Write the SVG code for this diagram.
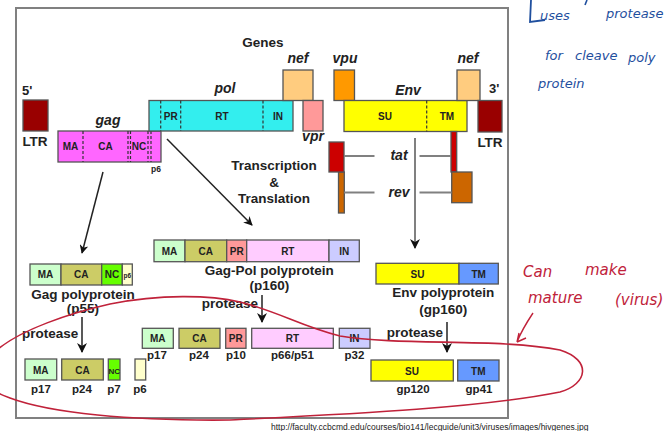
<svg xmlns="http://www.w3.org/2000/svg" width="667" height="431" viewBox="0 0 667 431">
<defs>
<style>
.b{stroke:#555;stroke-width:1.3}
.t{font-family:"Liberation Sans",Arial,sans-serif;font-weight:bold;fill:#222}
.bl{font-size:10px;text-anchor:middle}
.gl{font-size:14px;font-style:italic;text-anchor:middle}
.big{font-size:13.5px;text-anchor:middle}
.ps{font-size:13.5px;text-anchor:start}
.pl{font-size:11.5px;text-anchor:middle}
.d{stroke:#333;stroke-width:1.2;stroke-dasharray:3,2}
.ln{stroke:#222;stroke-width:1.5;fill:none}
.gr{stroke:#808080;stroke-width:2;fill:none}
.hb{font-family:"DejaVu Sans",sans-serif;font-style:italic;fill:#1f4f9e;font-size:13px}
.hr{font-family:"DejaVu Sans",sans-serif;font-style:italic;fill:#c0223a;font-size:15px}
</style>
<marker id="ah" viewBox="0 0 10 10" refX="9" refY="5" markerWidth="9" markerHeight="9" markerUnits="userSpaceOnUse" orient="auto">
<path d="M0,0 L10,5 L0,10 L3,5 Z" fill="#111"/>
</marker>
<marker id="ah2" viewBox="0 0 10 10" refX="9" refY="5" markerWidth="10" markerHeight="10" markerUnits="userSpaceOnUse" orient="auto">
<path d="M0,0 L10,5 L0,10 L3,5 Z" fill="#111"/>
</marker>
</defs>
<rect width="667" height="431" fill="#fff"/>
<rect x="16" y="8" width="492" height="410" fill="none" stroke="#808080" stroke-width="2"/>

<text class="t big" x="263" y="47">Genes</text>

<g id="ltr5">
<text class="t" x="22" y="95" font-size="13">5'</text>
<rect x="23" y="100" width="25" height="31" fill="#990000" class="b"/>
<text class="t big" x="35" y="146" font-size="13">LTR</text>
</g>

<g id="gag">
<text class="t gl" x="108" y="125">gag</text>
<rect x="58" y="131" width="103" height="31" fill="#FF66FF" class="b"/>
<line x1="83" y1="131" x2="83" y2="162" class="d"/>
<line x1="128" y1="131" x2="128" y2="162" class="d"/>
<line x1="130.5" y1="131" x2="130.5" y2="162" class="d"/>
<line x1="148" y1="131" x2="148" y2="162" class="d"/>
<line x1="151" y1="131" x2="151" y2="162" class="d"/>
<text class="t bl" x="70.5" y="150">MA</text>
<text class="t bl" x="105.5" y="150">CA</text>
<text class="t bl" x="139" y="150">NC</text>
<text class="t" x="156" y="172" font-size="8.5" text-anchor="middle">p6</text>
</g>

<g id="pol">
<text class="t gl" x="225" y="93">pol</text>
<rect x="149" y="100.5" width="144" height="30.5" fill="#33EEEE" class="b"/>
<line x1="160.7" y1="100.5" x2="160.7" y2="131" class="d"/>
<line x1="180.7" y1="100.5" x2="180.7" y2="131" class="d"/>
<line x1="263" y1="100.5" x2="263" y2="131" class="d"/>
<text class="t bl" x="170.7" y="120">PR</text>
<text class="t bl" x="222" y="120">RT</text>
<text class="t bl" x="278" y="120">IN</text>
</g>

<g id="nef1">
<text class="t gl" x="298" y="63" font-size="13.5">nef</text>
<rect x="283" y="70" width="30" height="30.5" fill="#FFCC7F" class="b"/>
</g>

<g id="vpr">
<rect x="303" y="100.5" width="20" height="30.5" fill="#FF9999" class="b"/>
<text class="t gl" x="313" y="141" font-size="13.5">vpr</text>
</g>

<g id="vpu">
<text class="t gl" x="345" y="63" font-size="13.5">vpu</text>
<rect x="334" y="70" width="20.5" height="30.5" fill="#FF9900" class="b"/>
</g>

<g id="env">
<text class="t gl" x="408" y="95">Env</text>
<rect x="344" y="100.5" width="123" height="31" fill="#FFFF00" class="b"/>
<line x1="426.7" y1="100.5" x2="426.7" y2="131.5" class="d"/>
<text class="t bl" x="385" y="120">SU</text>
<text class="t bl" x="447" y="120">TM</text>
</g>

<g id="nef2">
<text class="t gl" x="468" y="63" font-size="13.5">nef</text>
<rect x="457" y="70" width="23" height="30.5" fill="#FFCC7F" class="b"/>
</g>

<g id="ltr3">
<text class="t" x="489" y="93" font-size="13">3'</text>
<rect x="478" y="100.5" width="24" height="31.5" fill="#990000" class="b"/>
<text class="t big" x="490" y="146.5" font-size="13">LTR</text>
</g>

<g id="tatrev">
<rect x="338.5" y="172" width="5.8" height="41" fill="#CC6600" class="b"/>
<rect x="329" y="142" width="15" height="30" fill="#CC0000" class="b"/>
<rect x="451" y="131.5" width="5.7" height="40.5" fill="#CC0000" class="b"/>
<rect x="451.7" y="172" width="20.3" height="30.7" fill="#CC6600" class="b"/>
<text class="t gl" x="399" y="160" font-size="13.5">tat</text>
<text class="t gl" x="399" y="197" font-size="13.5">rev</text>
</g>

<g id="transcription">
<text class="t big" x="274" y="170">Transcription</text>
<text class="t big" x="274" y="187">&amp;</text>
<text class="t big" x="274" y="203">Translation</text>
</g>

<g id="connectors">
<line x1="103" y1="172" x2="82" y2="253" class="ln" marker-end="url(#ah)"/>
<line x1="167" y1="139" x2="252" y2="225" class="ln" marker-end="url(#ah)"/>
<line x1="344" y1="156" x2="374.5" y2="156" class="gr"/>
<line x1="419.5" y1="156" x2="451" y2="156" class="gr"/>
<line x1="344" y1="192.5" x2="374.5" y2="192.5" class="gr"/>
<line x1="419.5" y1="192.5" x2="451.7" y2="192.5" class="gr"/>
<line x1="415" y1="138" x2="415" y2="248" class="gr" marker-end="url(#ah2)"/>
<line x1="82" y1="317" x2="82" y2="352" class="ln" marker-end="url(#ah2)"/>
<line x1="262" y1="295" x2="262" y2="322" class="ln" marker-end="url(#ah2)"/>
<line x1="447" y1="322" x2="447" y2="352" class="ln" marker-end="url(#ah2)"/>
</g>

<g id="gagpoly">
<rect x="30" y="264" width="31" height="21" fill="#CCFFCC" class="b"/>
<rect x="61" y="264" width="40.7" height="21" fill="#CCCC66" class="b"/>
<rect x="101.7" y="264" width="20.6" height="21" fill="#66FF00" class="b"/>
<rect x="122.3" y="264" width="10" height="21" fill="#FFFFCC" class="b"/>
<text class="t bl" x="45.5" y="278">MA</text>
<text class="t bl" x="81.3" y="278">CA</text>
<text class="t bl" x="112" y="278">NC</text>
<text class="t" x="127.3" y="277.5" font-size="6.5" text-anchor="middle">p6</text>
<text class="t big" x="83" y="299">Gag polyprotein</text>
<text class="t big" x="83" y="313">(p55)</text>
</g>

<g id="gagpolpoly">
<rect x="154" y="240" width="31" height="21.7" fill="#CCFFCC" class="b"/>
<rect x="185" y="240" width="41.7" height="21.7" fill="#CCCC66" class="b"/>
<rect x="226.7" y="240" width="20" height="21.7" fill="#FF9999" class="b"/>
<rect x="246.7" y="240" width="82.3" height="21.7" fill="#FFCCFF" class="b"/>
<rect x="329" y="240" width="30.3" height="21.7" fill="#CCCCFF" class="b"/>
<text class="t bl" x="169.5" y="254.5">MA</text>
<text class="t bl" x="205.8" y="254.5">CA</text>
<text class="t bl" x="236.7" y="254.5">PR</text>
<text class="t bl" x="287.8" y="254.5">RT</text>
<text class="t bl" x="344.2" y="254.5">IN</text>
<text class="t big" x="269.3" y="275">Gag-Pol polyprotein</text>
<text class="t big" x="269.3" y="290">(p160)</text>
</g>

<g id="envpoly">
<rect x="376" y="263.3" width="83" height="20.7" fill="#FFFF00" class="b"/>
<rect x="459" y="263.3" width="39.3" height="20.7" fill="#6699FF" class="b"/>
<text class="t bl" x="417.5" y="277.5">SU</text>
<text class="t bl" x="478.7" y="277.5">TM</text>
<text class="t big" x="443.3" y="297.3">Env polyprotein</text>
<text class="t big" x="443.3" y="314">(gp160)</text>
</g>

<g id="protease-labels">
<text class="t ps" x="22" y="338">protease</text>
<text class="t ps" x="201.7" y="308">protease</text>
<text class="t ps" x="386.7" y="336.7">protease</text>
</g>

<g id="gagproducts">
<rect x="25" y="359" width="31.7" height="21" fill="#CCFFCC" class="b"/>
<rect x="61.7" y="359" width="41.6" height="21" fill="#CCCC66" class="b"/>
<rect x="108.3" y="359" width="11.7" height="21" fill="#66FF00" class="b"/>
<rect x="135" y="359" width="10.7" height="21" fill="#FFFFCC" class="b"/>
<text class="t bl" x="40.8" y="373.5">MA</text>
<text class="t bl" x="82.5" y="373.5">CA</text>
<text class="t bl" x="114.2" y="373.5" style="font-size:8px">NC</text>
<text class="t pl" x="41" y="393">p17</text>
<text class="t pl" x="82" y="393">p24</text>
<text class="t pl" x="114" y="393">p7</text>
<text class="t pl" x="140" y="393">p6</text>
</g>

<g id="gagpolproducts">
<rect x="142.3" y="328.3" width="31" height="20" fill="#CCFFCC" class="b"/>
<rect x="179" y="328.3" width="41" height="20" fill="#CCCC66" class="b"/>
<rect x="225.7" y="328.3" width="20.3" height="20" fill="#FF9999" class="b"/>
<rect x="251.7" y="328.3" width="81.6" height="20" fill="#FFCCFF" class="b"/>
<rect x="339.3" y="328.3" width="30.7" height="20" fill="#CCCCFF" class="b"/>
<text class="t bl" x="157.8" y="342">MA</text>
<text class="t bl" x="199.5" y="342">CA</text>
<text class="t bl" x="235.8" y="342">PR</text>
<text class="t bl" x="292.5" y="342">RT</text>
<text class="t bl" x="354.6" y="342">IN</text>
<text class="t pl" x="157" y="359.3">p17</text>
<text class="t pl" x="199" y="359.3">p24</text>
<text class="t pl" x="236" y="359.3">p10</text>
<text class="t pl" x="292.5" y="359.3">p66/p51</text>
<text class="t pl" x="354.5" y="359.3">p32</text>
</g>

<g id="envproducts">
<rect x="371" y="360" width="82.3" height="21" fill="#FFFF00" class="b"/>
<rect x="457.7" y="360" width="41.3" height="21" fill="#6699FF" class="b"/>
<text class="t bl" x="412" y="374.5">SU</text>
<text class="t bl" x="478.3" y="374.5">TM</text>
<text class="t pl" x="413" y="393">gp120</text>
<text class="t pl" x="479" y="393">gp41</text>
</g>

<text x="271" y="430" font-family="Liberation Sans, Arial, sans-serif" font-size="8.5" fill="#222">http://faculty.ccbcmd.edu/courses/bio141/lecguide/unit3/viruses/images/hivgenes.jpg</text>

<g id="annotations">
<path d="M-3,350 C20,330 70,313 110,304 C160,294 210,295 240,302 C280,312 300,326 340,336 C400,346 500,338 560,350 C592,360 588,384 560,392 C480,408 350,414 230,420 C130,421 50,413 10,398 C2,395 -2,393 -3,392" fill="none" stroke="#c0223a" stroke-width="1.6"/>
<path d="M533,313 C527,322 521,332 517,342 M517,342 L519,333 M517,342 L526,338" fill="none" stroke="#c0223a" stroke-width="1.4"/>
<text class="hr" x="523" y="277">Can</text>
<text class="hr" x="585" y="275">make</text>
<text class="hr" x="528" y="303">mature</text>
<text class="hr" x="615" y="305">(virus)</text>
<path d="M531,0 L530,22 L545,20" fill="none" stroke="#1f4f9e" stroke-width="1.8"/>
<path d="M587,0 L585,5" fill="none" stroke="#1f4f9e" stroke-width="1.6"/>
<text class="hb" x="540" y="20">uses</text>
<text class="hb" x="606" y="18">protease</text>
<text class="hb" x="545" y="60">for</text>
<text class="hb" x="575" y="60">cleave</text>
<text class="hb" x="628" y="62">poly</text>
<text class="hb" x="538" y="88">protein</text>
</g>
</svg>
